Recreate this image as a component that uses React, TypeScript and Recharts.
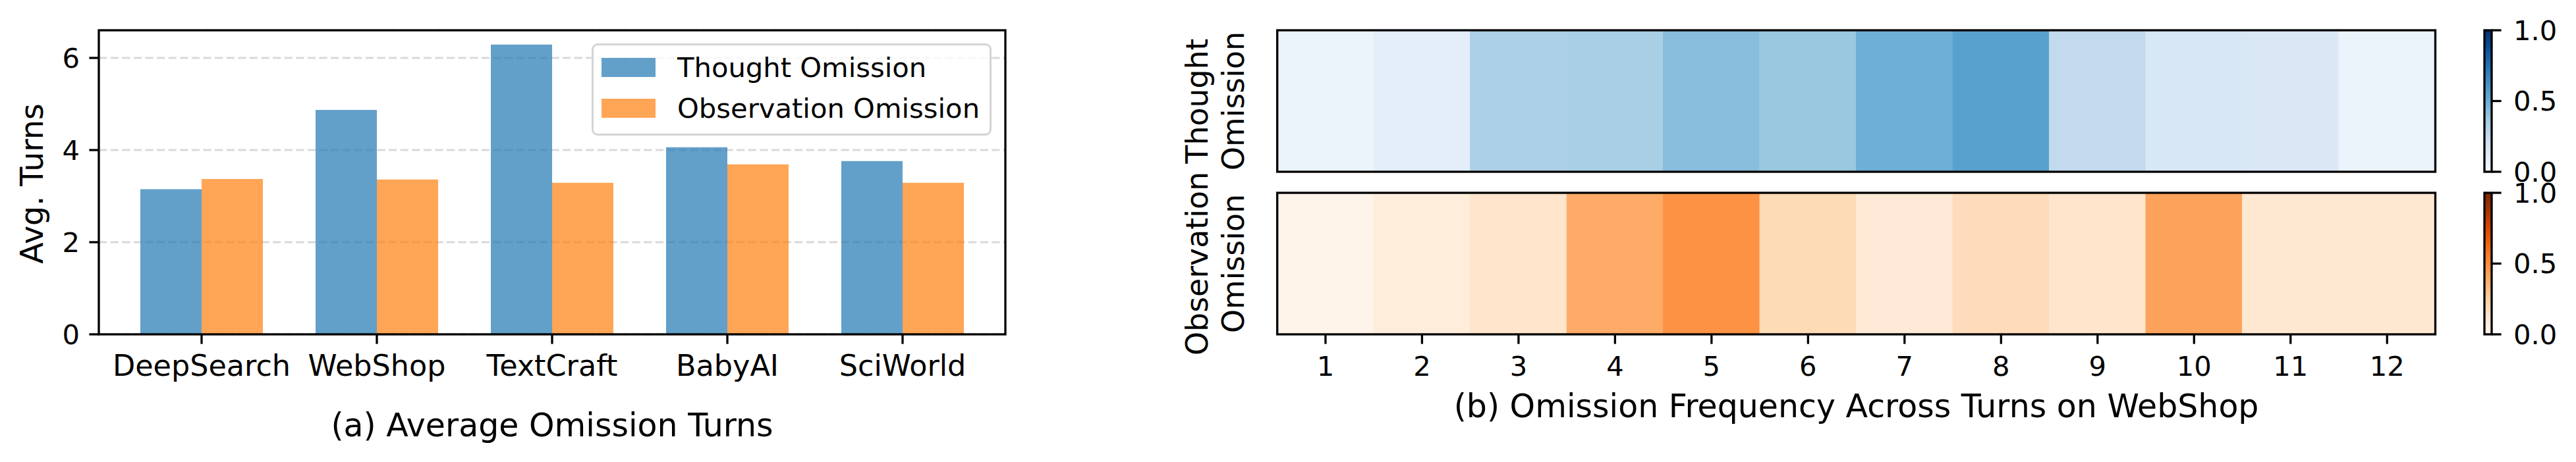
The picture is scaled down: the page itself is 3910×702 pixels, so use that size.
import React from 'react';
import { BarChart, Bar, XAxis, YAxis, CartesianGrid, Legend, Cell } from 'recharts';

// ---------- data ----------
const tasks = ['DeepSearch', 'WebShop', 'TextCraft', 'BabyAI', 'SciWorld'];
const thoughtTurns = [3.15, 4.87, 6.29, 4.06, 3.76];
const observationTurns = [3.37, 3.36, 3.29, 3.69, 3.29];
const avgTurnTicks = [0, 2, 4, 6];

const turnLabels = ['1', '2', '3', '4', '5', '6', '7', '8', '9', '10', '11', '12'];
const thoughtFreq = [0.06, 0.1, 0.33, 0.34, 0.43, 0.385, 0.495, 0.557, 0.26, 0.16, 0.146, 0.055];
const observationFreq = [0.01, 0.067, 0.13, 0.386, 0.481, 0.19, 0.09, 0.18, 0.13, 0.42, 0.108, 0.107];
const colorbarTicks = [0, 0.5, 1];
const seriesOrder = ['thought', 'observation'];

// ---------- colormaps ----------
const BLUES = ['#f7fbff', '#deebf7', '#c6dbef', '#9ecae1', '#6baed6', '#4292c6', '#2171b5', '#08519c', '#08306b'];
const ORANGES = ['#fff5eb', '#fee6ce', '#fdd0a2', '#fdae6b', '#fd8d3c', '#f16913', '#d94801', '#a63603', '#7f2704'];

function hexToRgb(h: string) {
  return [parseInt(h.slice(1, 3), 16), parseInt(h.slice(3, 5), 16), parseInt(h.slice(5, 7), 16)];
}
function cmap(stops: string[], v: number) {
  const t = Math.max(0, Math.min(1, v)) * (stops.length - 1);
  const i = Math.min(stops.length - 2, Math.floor(t));
  const f = t - i;
  const a = hexToRgb(stops[i]);
  const b = hexToRgb(stops[i + 1]);
  const c = a.map((x, k) => Math.round(x + (b[k] - x) * f));
  return `rgb(${c[0]},${c[1]},${c[2]})`;
}

const barData = tasks.map((t, i) => ({ task: t, thought: thoughtTurns[i], observation: observationTurns[i] }));
const heatData = turnLabels.map((t, i) => ({ turn: t, thought: thoughtFreq[i], observation: observationFreq[i], span: 1 }));
const colorbarData = [{ name: 'cb', span: 1 }];

// ---------- style ----------
const FONT = "'DejaVu Sans', sans-serif";
const LW = 3.3;
const TICK = 14.6;
const BLUE = '#1f77b4';
const ORANGE = '#ff7f0e';

const A = { x0: 150, x1: 1526, y0: 46, y1: 508 };
const H = { x0: 1938.7, x1: 3696.5, top0: 46, top1: 261, bot0: 293, bot1: 508 };
const CB = { x0: 3771, x1: 3782 };

const renderLegend = (props: any) => {
  const payload = [...(props.payload || [])].sort(
    (a: any, b: any) => seriesOrder.indexOf(String(a.dataKey)) - seriesOrder.indexOf(String(b.dataKey))
  );
  return (
    <div
      style={{
        position: 'relative',
        width: 606.5,
        height: 140,
        boxSizing: 'border-box',
        border: `${LW}px solid #d4d4d4`,
        borderRadius: 9,
        background: 'rgba(255,255,255,0.8)',
        fontFamily: FONT,
      }}
    >
      {payload.map((p: any, i: number) => (
        <div key={i}>
          <div
            style={{
              position: 'absolute',
              left: 12,
              top: 19 + i * 62,
              width: 82,
              height: 29,
              background: p.color,
              opacity: 0.7,
            }}
          />
          <div
            style={{
              position: 'absolute',
              left: 127,
              top: 19 + i * 62,
              height: 29,
              lineHeight: '29px',
              fontSize: 41.7,
              color: '#000',
              whiteSpace: 'nowrap',
            }}
          >
            {p.value}
          </div>
        </div>
      ))}
    </div>
  );
};

export default function App() {
  const W = 3910;
  const Ht = 702;
  const tickStyle = { stroke: '#000', strokeWidth: LW };
  return (
    <div
      style={{
        position: 'absolute',
        left: 0,
        top: 0,
        width: W,
        height: Ht,
        background: '#fff',
        fontFamily: FONT,
        overflow: 'hidden',
      }}
    >
      {/* (a) grouped bars */}
      <div style={{ position: 'absolute', left: 0, top: 0 }}>
        <BarChart
          width={1600}
          height={702}
          data={barData}
          margin={{ top: A.y0, right: 1600 - A.x1, bottom: 702 - A.y1 - 80, left: A.x0 - 110 }}
          barCategoryGap={40}
          barGap={0}
        >
          <CartesianGrid
            vertical={false}
            stroke="#000"
            strokeOpacity={0.15}
            strokeWidth={3}
            strokeDasharray="12.3 5.3"
          />
          <XAxis
            dataKey="task"
            height={80}
            interval={0}
            padding={{ left: 23, right: 23 }}
            tickSize={TICK}
            tickMargin={16.4}
            tickLine={tickStyle}
            axisLine={false}
            tick={{ fill: '#000', fontSize: 44.5, fontFamily: FONT }}
          />
          <YAxis
            width={110}
            type="number"
            domain={[0, 6.6]}
            ticks={avgTurnTicks}
            interval={0}
            tickSize={TICK}
            tickMargin={14.4}
            tickLine={tickStyle}
            axisLine={false}
            tick={{ fill: '#000', fontSize: 41.7, fontFamily: FONT }}
          />
          <Legend
            layout="horizontal"
            align="center"
            verticalAlign="middle"
            content={renderLegend}
            wrapperStyle={{ left: 898, top: 66, width: 606.5, height: 140 }}
          />
          <Bar dataKey="thought" name="Thought Omission" fill={BLUE} fillOpacity={0.7} isAnimationActive={false} />
          <Bar dataKey="observation" name="Observation Omission" fill={ORANGE} fillOpacity={0.7} isAnimationActive={false} />
        </BarChart>
      </div>

      {/* (b) heatmap: thought row */}
      <div style={{ position: 'absolute', left: 1900, top: 0 }}>
        <BarChart
          width={1840}
          height={702}
          data={heatData}
          margin={{ top: H.top0, right: 3740 - H.x1, bottom: 702 - H.top1, left: H.x0 - 1900 }}
          barCategoryGap={0}
          barGap={0}
        >
          <XAxis dataKey="turn" hide />
          <YAxis type="number" domain={[0, 1]} hide />
          <Bar dataKey="span" isAnimationActive={false}>
            {heatData.map((d, i) => (
              <Cell key={i} fill={cmap(BLUES, d.thought)} stroke={cmap(BLUES, d.thought)} strokeWidth={1} />
            ))}
          </Bar>
        </BarChart>
      </div>

      {/* (b) heatmap: observation row */}
      <div style={{ position: 'absolute', left: 1900, top: 0 }}>
        <BarChart
          width={1840}
          height={702}
          data={heatData}
          margin={{ top: H.bot0, right: 3740 - H.x1, bottom: 702 - H.bot1 - 80, left: H.x0 - 1900 }}
          barCategoryGap={0}
          barGap={0}
        >
          <XAxis
            dataKey="turn"
            height={80}
            interval={0}
            tickSize={TICK}
            tickMargin={19}
            tickLine={tickStyle}
            axisLine={false}
            tick={{ fill: '#000', fontSize: 41.7, fontFamily: FONT }}
          />
          <YAxis type="number" domain={[0, 1]} hide />
          <Bar dataKey="span" isAnimationActive={false}>
            {heatData.map((d, i) => (
              <Cell key={i} fill={cmap(ORANGES, d.observation)} stroke={cmap(ORANGES, d.observation)} strokeWidth={1} />
            ))}
          </Bar>
        </BarChart>
      </div>

      {/* colorbars */}
      {[
        { id: 'cbBlue', stops: BLUES, top: H.top0, bottom: H.top1 },
        { id: 'cbOrange', stops: ORANGES, top: H.bot0, bottom: H.bot1 },
      ].map((cb) => (
        <div key={cb.id} style={{ position: 'absolute', left: 3700, top: 0 }}>
          <BarChart
            width={210}
            height={702}
            data={colorbarData}
            margin={{ top: cb.top, right: 210 - 100 - (CB.x1 - 3700), bottom: 702 - cb.bottom, left: CB.x0 - 3700 }}
            barCategoryGap={0}
          >
            <defs>
              <linearGradient id={cb.id} x1="0" y1="1" x2="0" y2="0">
                {cb.stops.map((c, i) => (
                  <stop key={i} offset={`${(i / (cb.stops.length - 1)) * 100}%`} stopColor={c} />
                ))}
              </linearGradient>
            </defs>
            <XAxis dataKey="name" hide />
            <YAxis
              orientation="right"
              width={100}
              type="number"
              domain={[0, 1]}
              ticks={colorbarTicks}
              interval={0}
              tickFormatter={(v: number) => v.toFixed(1)}
              tickSize={TICK}
              tickMargin={18.4}
              tickLine={tickStyle}
              axisLine={false}
              tick={{ fill: '#000', fontSize: 41.7, fontFamily: FONT }}
            />
            <Bar dataKey="span" fill={`url(#${cb.id})`} isAnimationActive={false} />
          </BarChart>
        </div>
      ))}

      {/* frames and labels */}
      <svg
        width={W}
        height={Ht}
        style={{ position: 'absolute', left: 0, top: 0, pointerEvents: 'none', fontFamily: FONT }}
      >
        <g fill="none" stroke="#000" strokeWidth={LW}>
          <rect x={A.x0} y={A.y0} width={A.x1 - A.x0} height={A.y1 - A.y0} />
          <rect x={H.x0} y={H.top0} width={H.x1 - H.x0} height={H.top1 - H.top0} />
          <rect x={H.x0} y={H.bot0} width={H.x1 - H.x0} height={H.bot1 - H.bot0} />
          <rect x={CB.x0} y={H.top0} width={CB.x1 - CB.x0} height={H.top1 - H.top0} />
          <rect x={CB.x0} y={H.bot0} width={CB.x1 - CB.x0} height={H.bot1 - H.bot0} />
        </g>
        <text x={65} y={279} fontSize={47.5} textAnchor="middle" transform="rotate(-90 65 279)" fill="#000">
          Avg. Turns
        </text>
        <text x={838} y={663} fontSize={49} textAnchor="middle" fill="#000">
          (a) Average Omission Turns
        </text>
        <text x={2817.6} y={634} fontSize={49} textAnchor="middle" fill="#000">
          (b) Omission Frequency Across Turns on WebShop
        </text>
        <text x={1833} y={153.5} fontSize={45.8} textAnchor="middle" transform="rotate(-90 1833 153.5)" fill="#000">
          Thought
        </text>
        <text x={1888} y={153.5} fontSize={45.8} textAnchor="middle" transform="rotate(-90 1888 153.5)" fill="#000">
          Omission
        </text>
        <text x={1833} y={400.5} fontSize={45.8} textAnchor="middle" transform="rotate(-90 1833 400.5)" fill="#000">
          Observation
        </text>
        <text x={1888} y={400.5} fontSize={45.8} textAnchor="middle" transform="rotate(-90 1888 400.5)" fill="#000">
          Omission
        </text>
      </svg>
    </div>
  );
}
